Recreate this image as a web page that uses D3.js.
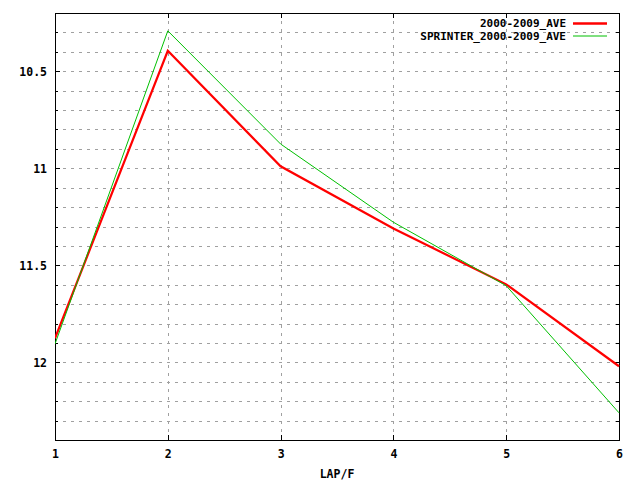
<!DOCTYPE html>
<html><head><meta charset="utf-8">
<script src="https://cdn.jsdelivr.net/npm/d3@7"></script>
<style>
body{margin:0;background:#fff;}
svg text{font-family:"DejaVu Sans Mono","Liberation Mono",monospace;font-weight:bold;font-size:11.5px;fill:#000;}
</style></head><body>
<svg id="c" width="640" height="480"></svg>
<script>
const laps = [1, 2, 3, 4, 5, 6];
const aveValues = [11.876, 10.395, 10.99, 11.31, 11.598, 12.02];
const sprinterValues = [11.905, 10.292, 10.875, 11.278, 11.605, 12.26];
const seriesNames = ["2000-2009_AVE", "SPRINTER_2000-2009_AVE"];
const seriesColors = ["#ff0000", "#00c000"];
const xTicks = [1, 2, 3, 4, 5, 6];
const yMajorTicks = [10.5, 11, 11.5, 12];
const yMinorTicks = d3.range(103, 124).map(v => v / 10);
const xLabel = "LAP/F";

const L = 55, R = 619, T = 13, B = 440;
const svg = d3.select("#c");
const x = d3.scaleLinear().domain([1, 6]).range([L, R]);
const y = d3.scaleLinear().domain([10.2, 12.4]).range([T, B]);

const g = svg.append("g").attr("shape-rendering", "crispEdges");
// grid
g.selectAll(".hg").data(yMinorTicks).enter().append("line")
  .attr("x1", L).attr("x2", R)
  .attr("y1", d => Math.round(y(d)) + 0.5).attr("y2", d => Math.round(y(d)) + 0.5)
  .attr("stroke", "#a0a0a0").attr("stroke-dasharray", "3,5");
g.selectAll(".vg").data(xTicks.slice(1, -1)).enter().append("line")
  .attr("y1", T).attr("y2", B)
  .attr("x1", d => Math.round(x(d)) + 0.5).attr("x2", d => Math.round(x(d)) + 0.5)
  .attr("stroke", "#a0a0a0").attr("stroke-dasharray", "3,5");

// axes via d3
const axL = d3.axisLeft(y).tickValues(yMajorTicks).tickSize(0).tickPadding(8).tickFormat(d => String(d));
const axB = d3.axisBottom(x).tickValues(xTicks).tickSize(0).tickPadding(8).tickFormat(d3.format("d"));
const gl = svg.append("g").attr("transform", `translate(${L},0)`).call(axL);
const gb = svg.append("g").attr("transform", `translate(0,${B})`).call(axB);
[gl, gb].forEach(a => { a.select(".domain").remove(); a.selectAll("text").attr("font-family", null).attr("font-size", null).attr("fill", "#000"); });
gl.selectAll("text").attr("dy", "0.35em");
gb.selectAll("text").attr("dy", "0.9em");

// ticks (inward, mirrored)
const tk = svg.append("g").attr("shape-rendering", "crispEdges").attr("stroke", "#000");
function yt(vals, len) {
  vals.forEach(v => {
    const yy = Math.round(y(v)) + 0.5;
    tk.append("line").attr("x1", L).attr("x2", L + len).attr("y1", yy).attr("y2", yy);
    tk.append("line").attr("x1", R - len).attr("x2", R).attr("y1", yy).attr("y2", yy);
  });
}
yt(yMinorTicks.filter(v => !yMajorTicks.some(m => Math.abs(m - v) < 1e-9)), 3);
yt(yMajorTicks, 5);
xTicks.forEach(v => {
  const xx = Math.round(x(v)) + 0.5;
  tk.append("line").attr("x1", xx).attr("x2", xx).attr("y1", B - 5).attr("y2", B);
  tk.append("line").attr("x1", xx).attr("x2", xx).attr("y1", T).attr("y2", T + 5);
});
// border
svg.append("rect").attr("x", L + 0.5).attr("y", T + 0.5).attr("width", R - L).attr("height", B - T)
  .attr("fill", "none").attr("stroke", "#000").attr("shape-rendering", "crispEdges");

// lines
const line = d3.line().x((d, i) => x(laps[i])).y(d => y(d));
svg.append("clipPath").attr("id", "clp").append("rect").attr("x", L).attr("y", T).attr("width", R - L + 1).attr("height", B - T);
svg.append("path").datum(aveValues).attr("d", line).attr("fill", "none")
  .attr("stroke", seriesColors[0]).attr("stroke-width", 2.2).attr("clip-path", "url(#clp)");
svg.append("path").datum(sprinterValues).attr("d", line).attr("fill", "none")
  .attr("stroke", seriesColors[1]).attr("stroke-width", 1).attr("clip-path", "url(#clp)");

// legend
seriesNames.forEach((n, i) => {
  const yy = 23.5 + i * 12.5;
  svg.append("text").attr("x", 566).attr("y", yy).attr("dy", "0.35em").attr("text-anchor", "end")
    .style("font-size", "11px").text(n);
  svg.append("line").attr("x1", 573).attr("x2", 607).attr("y1", yy).attr("y2", yy)
    .attr("stroke", seriesColors[i]).attr("stroke-width", i === 0 ? 2.5 : 1);
});

// x label
svg.append("text").attr("x", (L + R) / 2).attr("y", 474).attr("dy", "0.35em").attr("text-anchor", "middle").text(xLabel);
</script>
</body></html>
